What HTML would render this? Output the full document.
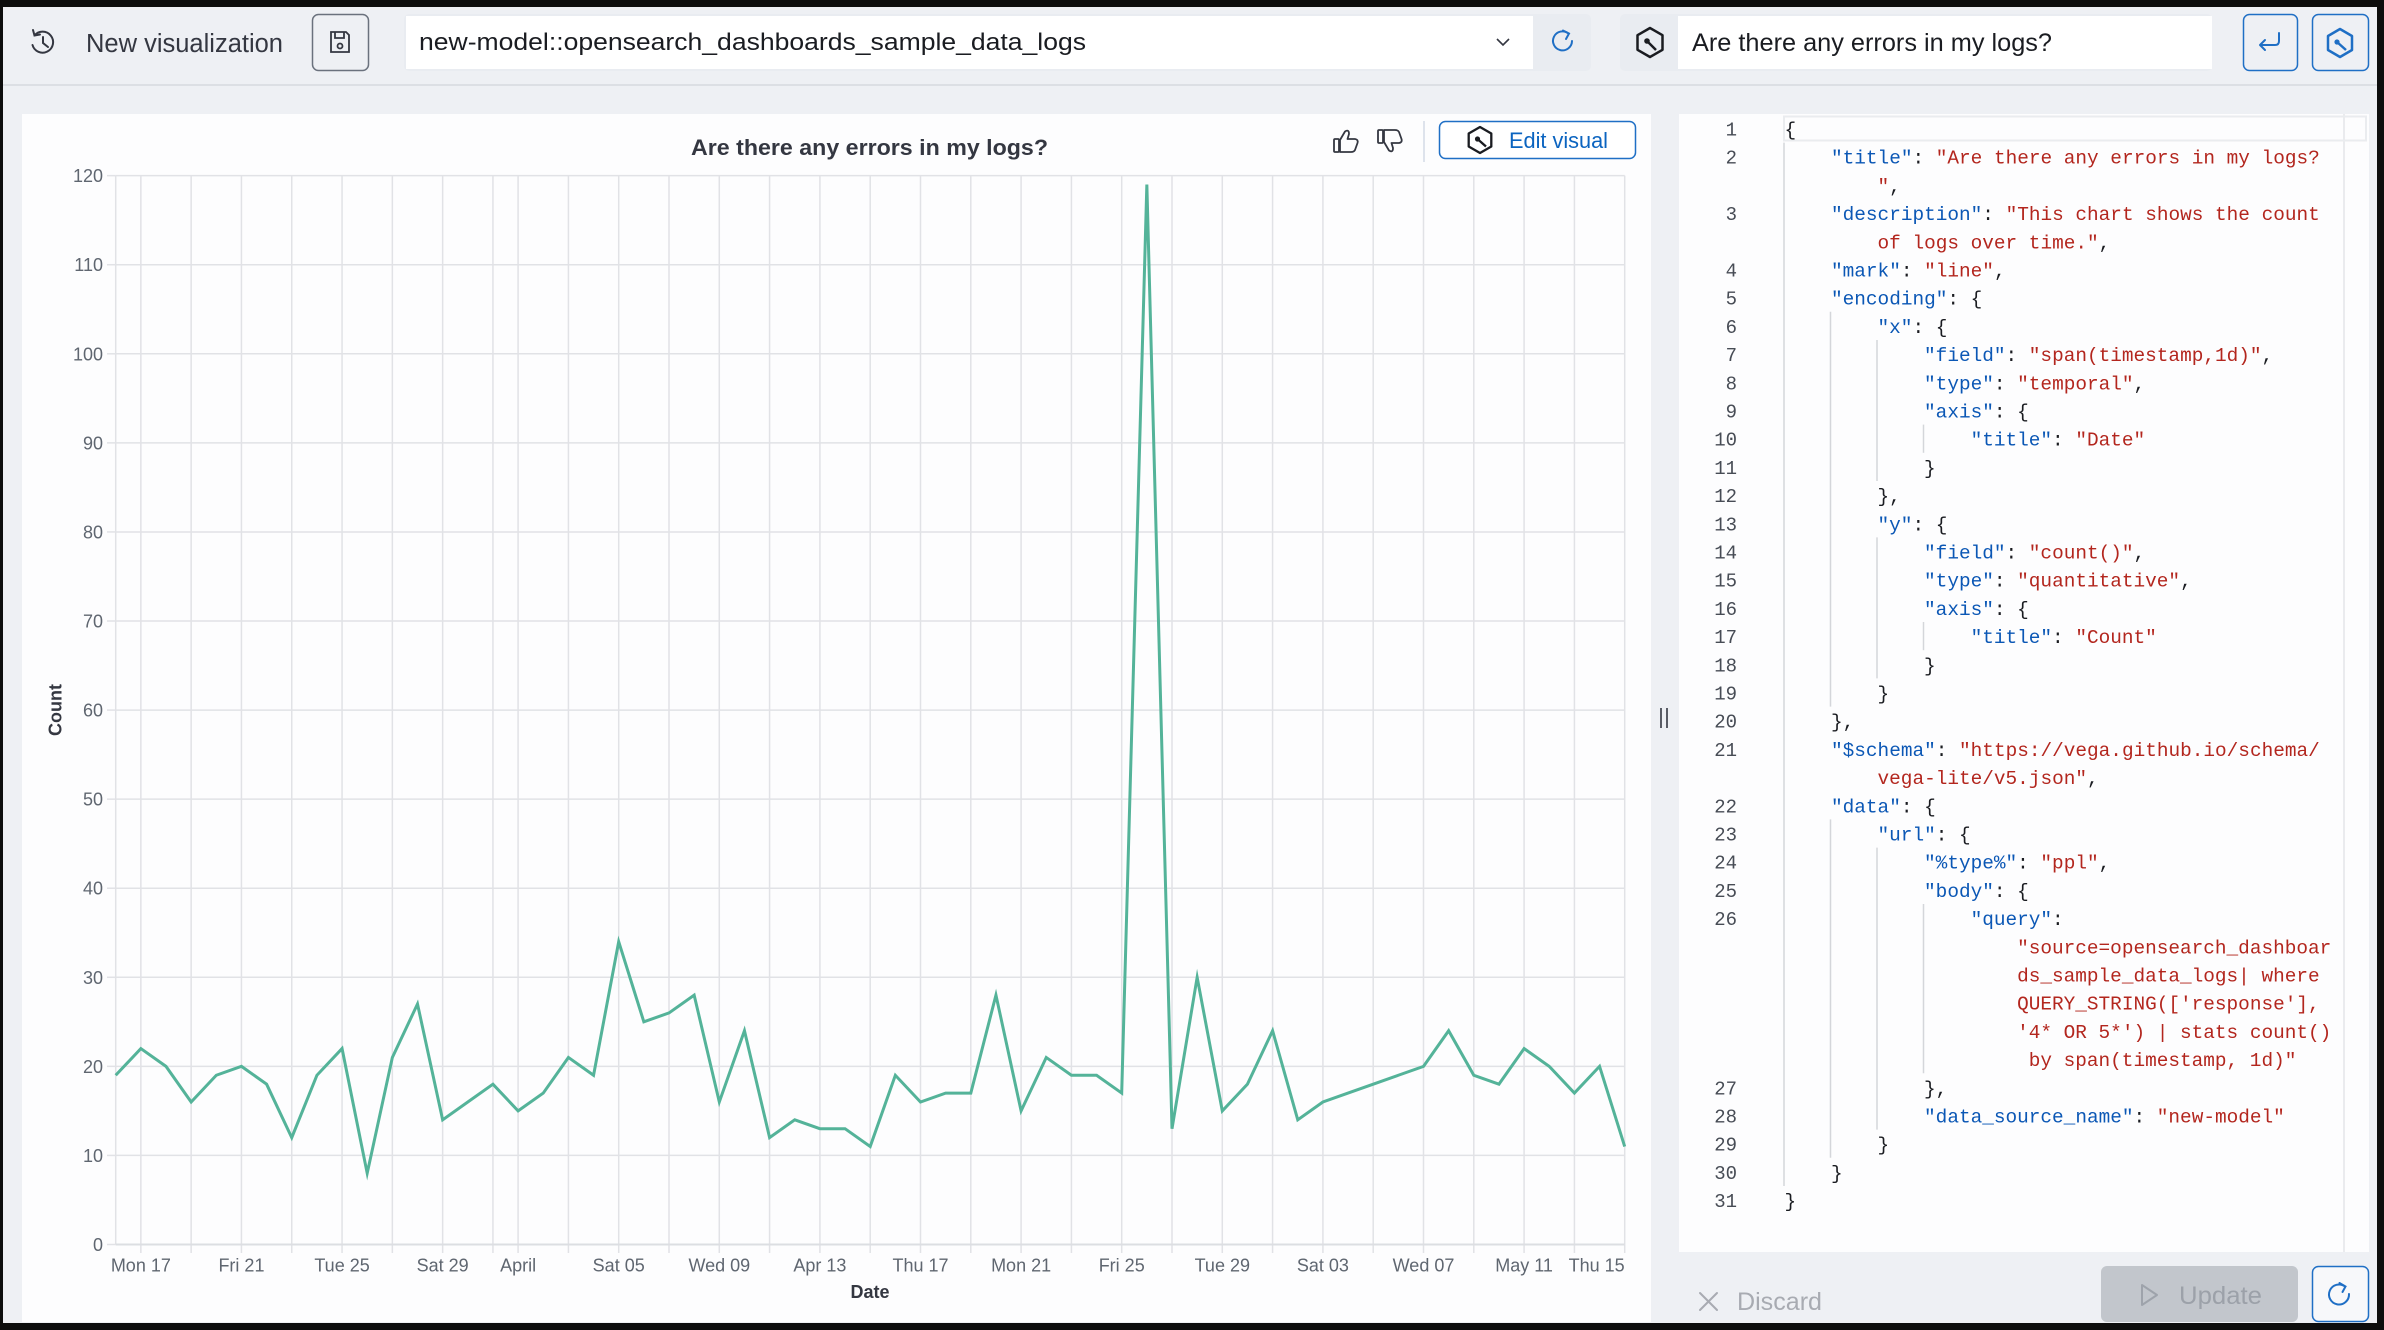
<!DOCTYPE html>
<html><head><meta charset="utf-8">
<style>
html,body{margin:0;padding:0;background:#eef0f4;}
svg{display:block;}
.ui{font-family:"Liberation Sans",Arial,sans-serif;}
.code{font-family:"Liberation Mono",monospace;font-size:19.4px;white-space:pre;fill:#1a1c21;}
.k{fill:#0b57b5}.s{fill:#b3261e}
.ln{font-family:"Liberation Mono",monospace;font-size:19px;fill:#474c55;text-anchor:end;}
.yl{font-family:"Liberation Sans",Arial,sans-serif;font-size:18px;fill:#5f6670;text-anchor:end;}
.xl{font-family:"Liberation Sans",Arial,sans-serif;font-size:18px;fill:#5f6670;text-anchor:middle;}
</style></head>
<body>
<svg width="2384" height="1330" viewBox="0 0 2384 1330" xmlns="http://www.w3.org/2000/svg">
<rect width="2384" height="1330" fill="#eef0f4"/>
<line x1="0" y1="85" x2="2384" y2="85" stroke="#d5d9df" stroke-width="1.5"/>

<!-- HEADER -->
<g fill="none" stroke="#343741" stroke-width="2" stroke-linecap="round">
  <path d="M34.5 35.5 A10.5 10.5 0 1 1 32.5 45"/>
  <path d="M33 30 L34.5 35.5 L40 34.5"/>
  <path d="M43 37 L43 43 L48 47"/>
</g>
<text class="ui" x="86" y="52" font-size="25.5" fill="#343741" textLength="197" lengthAdjust="spacingAndGlyphs">New visualization</text>
<rect x="312.5" y="14.5" width="56" height="56" rx="6" fill="none" stroke="#6a717d" stroke-width="1.5"/>
<g fill="none" stroke="#343741" stroke-width="1.8">
  <path d="M331 32 h15 l3 3 v17 h-18 z"/>
  <path d="M335 32 v6 h9 v-6"/>
  <circle cx="340" cy="46" r="2.5"/>
</g>
<rect x="404" y="14" width="1187" height="57" rx="5" fill="#e9ecf1"/>
<rect x="406" y="16" width="1127" height="53" fill="#ffffff"/>
<text class="ui" x="419" y="50" font-size="24" fill="#1a1c21" textLength="667" lengthAdjust="spacingAndGlyphs">new-model::opensearch_dashboards_sample_data_logs</text>
<polyline points="1497,39 1503,45 1509,39" fill="none" stroke="#343741" stroke-width="1.6"/>
<g fill="none" stroke="#1f6fc5" stroke-width="2" stroke-linecap="round">
  <path d="M1568.5 33.5 A9.5 9.5 0 1 0 1572 41"/>
  <path d="M1563 30.5 L1569 33.5 L1566 39"/>
</g>
<rect x="1620" y="14" width="592" height="57" rx="5" fill="#e9ecf1"/>
<rect x="1678" y="16" width="534" height="53" fill="#ffffff"/>
<g fill="none" stroke="#1a1c21" stroke-width="2.5" stroke-linejoin="round">
  <polygon points="1650,28 1662.5,35.2 1662.5,49.8 1650,57 1637.5,49.8 1637.5,35.2"/>
  <line x1="1647" y1="41" x2="1656" y2="50"/>
</g>
<circle cx="1647" cy="41" r="2.8" fill="#1a1c21"/>
<text class="ui" x="1692" y="51" font-size="25" fill="#1a1c21" textLength="360" lengthAdjust="spacingAndGlyphs">Are there any errors in my logs?</text>
<rect x="2243.5" y="14.5" width="54" height="56" rx="6" fill="none" stroke="#1f6fc5" stroke-width="1.5"/>
<g fill="none" stroke="#1f6fc5" stroke-width="2" stroke-linecap="round" stroke-linejoin="round">
  <path d="M2279 33 v8 q0 4 -4 4 h-14"/>
  <path d="M2265 40 l-5 5 l5 5"/>
</g>
<rect x="2312.5" y="14.5" width="56" height="56" rx="6" fill="none" stroke="#1f6fc5" stroke-width="1.5"/>
<g fill="none" stroke="#1f6fc5" stroke-width="2.5" stroke-linejoin="round">
  <polygon points="2340,29 2352,36 2352,50 2340,57 2328,50 2328,36"/>
  <line x1="2337" y1="42" x2="2346" y2="50"/>
</g>
<circle cx="2337" cy="42" r="2.6" fill="#1f6fc5"/>

<!-- CHART PANEL -->
<rect x="22" y="114" width="1629" height="1208" fill="#fdfdfe"/>
<text class="ui" x="869.5" y="155" font-size="22" font-weight="bold" fill="#343741" text-anchor="middle" textLength="357" lengthAdjust="spacingAndGlyphs">Are there any errors in my logs?</text>
<g fill="none" stroke="#343741" stroke-width="1.8" stroke-linejoin="round">
  <rect x="1334" y="139" width="5" height="13" rx="1"/>
  <path d="M1340 140 L1345 131.5 Q1349 129 1349 134 L1347.5 139 L1355 139 Q1358.5 139.5 1357.5 143 L1355 150 Q1354 152 1351 152 L1340 152 Z"/>
  <rect x="1378" y="130" width="5" height="13" rx="1"/>
  <path d="M1384 142 L1389 150.5 Q1393 153 1393 148 L1391.5 143 L1399 143 Q1402.5 142.5 1401.5 139 L1399 132 Q1398 130 1395 130 L1384 130 Z"/>
</g>
<line x1="1424" y1="121" x2="1424" y2="162" stroke="#d3dae6" stroke-width="1.5"/>
<rect x="1439.5" y="121.5" width="196" height="37" rx="6" fill="#fff" stroke="#1f6fc5" stroke-width="1.5"/>
<g fill="none" stroke="#1a1c21" stroke-width="2.3" stroke-linejoin="round">
  <polygon points="1480,127 1491.3,133.5 1491.3,146.5 1480,153 1468.7,146.5 1468.7,133.5"/>
  <line x1="1477.5" y1="139" x2="1486" y2="146.5"/>
</g>
<circle cx="1477.5" cy="139" r="2.6" fill="#1a1c21"/>
<text class="ui" x="1509" y="148" font-size="22" fill="#0b64c0" textLength="99" lengthAdjust="spacingAndGlyphs">Edit visual</text>

<!-- grid -->
<g stroke="#e1e2e6" stroke-width="1.5">
  <line x1="115.7" y1="1155.43" x2="1624.7" y2="1155.43"/>
  <line x1="115.7" y1="1066.36" x2="1624.7" y2="1066.36"/>
  <line x1="115.7" y1="977.29" x2="1624.7" y2="977.29"/>
  <line x1="115.7" y1="888.22" x2="1624.7" y2="888.22"/>
  <line x1="115.7" y1="799.15" x2="1624.7" y2="799.15"/>
  <line x1="115.7" y1="710.08" x2="1624.7" y2="710.08"/>
  <line x1="115.7" y1="621.01" x2="1624.7" y2="621.01"/>
  <line x1="115.7" y1="531.94" x2="1624.7" y2="531.94"/>
  <line x1="115.7" y1="442.87" x2="1624.7" y2="442.87"/>
  <line x1="115.7" y1="353.8" x2="1624.7" y2="353.8"/>
  <line x1="115.7" y1="264.73" x2="1624.7" y2="264.73"/>
  <line x1="115.7" y1="175.66" x2="1624.7" y2="175.66"/>
  <line x1="115.7" y1="175.66" x2="115.7" y2="1244.5"/>
  <line x1="140.85" y1="175.66" x2="140.85" y2="1253"/>
  <line x1="191.15" y1="175.66" x2="191.15" y2="1253"/>
  <line x1="241.45" y1="175.66" x2="241.45" y2="1253"/>
  <line x1="291.75" y1="175.66" x2="291.75" y2="1253"/>
  <line x1="342.05" y1="175.66" x2="342.05" y2="1253"/>
  <line x1="392.35" y1="175.66" x2="392.35" y2="1253"/>
  <line x1="442.65" y1="175.66" x2="442.65" y2="1253"/>
  <line x1="492.95" y1="175.66" x2="492.95" y2="1253"/>
  <line x1="518.1" y1="175.66" x2="518.1" y2="1253"/>
  <line x1="568.4" y1="175.66" x2="568.4" y2="1253"/>
  <line x1="618.7" y1="175.66" x2="618.7" y2="1253"/>
  <line x1="669.0" y1="175.66" x2="669.0" y2="1253"/>
  <line x1="719.3" y1="175.66" x2="719.3" y2="1253"/>
  <line x1="769.6" y1="175.66" x2="769.6" y2="1253"/>
  <line x1="819.9" y1="175.66" x2="819.9" y2="1253"/>
  <line x1="870.2" y1="175.66" x2="870.2" y2="1253"/>
  <line x1="920.5" y1="175.66" x2="920.5" y2="1253"/>
  <line x1="970.8" y1="175.66" x2="970.8" y2="1253"/>
  <line x1="1021.1" y1="175.66" x2="1021.1" y2="1253"/>
  <line x1="1071.4" y1="175.66" x2="1071.4" y2="1253"/>
  <line x1="1121.7" y1="175.66" x2="1121.7" y2="1253"/>
  <line x1="1172.0" y1="175.66" x2="1172.0" y2="1253"/>
  <line x1="1222.3" y1="175.66" x2="1222.3" y2="1253"/>
  <line x1="1272.6" y1="175.66" x2="1272.6" y2="1253"/>
  <line x1="1322.9" y1="175.66" x2="1322.9" y2="1253"/>
  <line x1="1373.2" y1="175.66" x2="1373.2" y2="1253"/>
  <line x1="1423.5" y1="175.66" x2="1423.5" y2="1253"/>
  <line x1="1473.8" y1="175.66" x2="1473.8" y2="1253"/>
  <line x1="1524.1" y1="175.66" x2="1524.1" y2="1253"/>
  <line x1="1574.4" y1="175.66" x2="1574.4" y2="1253"/>
  <line x1="1624.7" y1="175.66" x2="1624.7" y2="1253"/>
  <line x1="107" y1="1244.5" x2="115.7" y2="1244.5"/>
  <line x1="107" y1="1155.43" x2="115.7" y2="1155.43"/>
  <line x1="107" y1="1066.36" x2="115.7" y2="1066.36"/>
  <line x1="107" y1="977.29" x2="115.7" y2="977.29"/>
  <line x1="107" y1="888.22" x2="115.7" y2="888.22"/>
  <line x1="107" y1="799.15" x2="115.7" y2="799.15"/>
  <line x1="107" y1="710.08" x2="115.7" y2="710.08"/>
  <line x1="107" y1="621.01" x2="115.7" y2="621.01"/>
  <line x1="107" y1="531.94" x2="115.7" y2="531.94"/>
  <line x1="107" y1="442.87" x2="115.7" y2="442.87"/>
  <line x1="107" y1="353.8" x2="115.7" y2="353.8"/>
  <line x1="107" y1="264.73" x2="115.7" y2="264.73"/>
  <line x1="107" y1="175.66" x2="115.7" y2="175.66"/>
</g>
<line x1="115.7" y1="1244.5" x2="1624.7" y2="1244.5" stroke="#dcdee2" stroke-width="2"/>

<!-- y labels -->
<text class="yl" x="103" y="1251">0</text>
<text class="yl" x="103" y="1161.9">10</text>
<text class="yl" x="103" y="1072.9">20</text>
<text class="yl" x="103" y="983.8">30</text>
<text class="yl" x="103" y="894.7">40</text>
<text class="yl" x="103" y="805.6">50</text>
<text class="yl" x="103" y="716.6">60</text>
<text class="yl" x="103" y="627.5">70</text>
<text class="yl" x="103" y="538.4">80</text>
<text class="yl" x="103" y="449.4">90</text>
<text class="yl" x="103" y="360.3">100</text>
<text class="yl" x="103" y="271.2">110</text>
<text class="yl" x="103" y="182.2">120</text>

<!-- x labels -->
<text class="xl" x="140.85" y="1271.5">Mon 17</text>
<text class="xl" x="241.45" y="1271.5">Fri 21</text>
<text class="xl" x="342.05" y="1271.5">Tue 25</text>
<text class="xl" x="442.65" y="1271.5">Sat 29</text>
<text class="xl" x="518.1" y="1271.5">April</text>
<text class="xl" x="618.7" y="1271.5">Sat 05</text>
<text class="xl" x="719.3" y="1271.5">Wed 09</text>
<text class="xl" x="819.9" y="1271.5">Apr 13</text>
<text class="xl" x="920.5" y="1271.5">Thu 17</text>
<text class="xl" x="1021.1" y="1271.5">Mon 21</text>
<text class="xl" x="1121.7" y="1271.5">Fri 25</text>
<text class="xl" x="1222.3" y="1271.5">Tue 29</text>
<text class="xl" x="1322.9" y="1271.5">Sat 03</text>
<text class="xl" x="1423.5" y="1271.5">Wed 07</text>
<text class="xl" x="1524.1" y="1271.5">May 11</text>
<text class="xl" x="1624.7" y="1271.5" style="text-anchor:end">Thu 15</text>

<text class="ui" x="870" y="1298" font-size="18" font-weight="bold" fill="#343741" text-anchor="middle">Date</text>
<text class="ui" x="0" y="0" font-size="18" font-weight="bold" fill="#343741" text-anchor="middle" transform="translate(61.5 710) rotate(-90)">Count</text>

<!-- series -->
<g transform="translate(115.7 1244.5) scale(25.15 -8.907)">
<polyline fill="none" stroke="#54b399" stroke-width="3" vector-effect="non-scaling-stroke" stroke-linejoin="miter" stroke-miterlimit="10"
points="0,19 1,22 2,20 3,16 4,19 5,20 6,18 7,12 8,19 9,22 10,8 11,21 12,27 13,14 14,16 15,18 16,15 17,17 18,21 19,19 20,34 21,25 22,26 23,28 24,16 25,24 26,12 27,14 28,13 29,13 30,11 31,19 32,16 33,17 34,17 35,28 36,15 37,21 38,19 39,19 40,17 41,119 42,13 43,30 44,15 45,18 46,24 47,14 48,16 49,17 50,18 51,19 52,20 53,24 54,19 55,18 56,22 57,20 58,17 59,20 60,11"/>
</g>

<!-- splitter -->
<line x1="1661" y1="708" x2="1661" y2="728" stroke="#343741" stroke-width="1.6"/>
<line x1="1667" y1="708" x2="1667" y2="728" stroke="#343741" stroke-width="1.6"/>

<!-- CODE PANEL -->
<rect x="1679" y="114" width="690" height="1138" fill="#fdfdfe"/>
<line x1="2344" y1="114" x2="2344" y2="1252" stroke="#e3e5e8" stroke-width="1.5"/>
<rect x="1784" y="116.5" width="582" height="24" fill="none" stroke="#eaecef" stroke-width="2"/>
<g stroke="#d4d6da" stroke-width="1.5">
  <line x1="1784" y1="142.6" x2="1784" y2="1186"/>
  <line x1="1830.5" y1="311.8" x2="1830.5" y2="706.6"/>
  <line x1="1830.5" y1="819.4" x2="1830.5" y2="1157.8"/>
  <line x1="1877" y1="340" x2="1877" y2="481"/>
  <line x1="1877" y1="537.4" x2="1877" y2="678.4"/>
  <line x1="1877" y1="847.6" x2="1877" y2="1129.6"/>
  <line x1="1923.5" y1="424.6" x2="1923.5" y2="452.8"/>
  <line x1="1923.5" y1="622" x2="1923.5" y2="650.2"/>
  <line x1="1923.5" y1="904" x2="1923.5" y2="1073.2"/>
</g>

<!-- line numbers -->
<text class="ln" x="1737" y="135.5">1</text>
<text class="ln" x="1737" y="163.7">2</text>
<text class="ln" x="1737" y="220.1">3</text>
<text class="ln" x="1737" y="276.5">4</text>
<text class="ln" x="1737" y="304.7">5</text>
<text class="ln" x="1737" y="332.9">6</text>
<text class="ln" x="1737" y="361.1">7</text>
<text class="ln" x="1737" y="389.3">8</text>
<text class="ln" x="1737" y="417.5">9</text>
<text class="ln" x="1737" y="445.7">10</text>
<text class="ln" x="1737" y="473.9">11</text>
<text class="ln" x="1737" y="502.1">12</text>
<text class="ln" x="1737" y="530.3">13</text>
<text class="ln" x="1737" y="558.5">14</text>
<text class="ln" x="1737" y="586.7">15</text>
<text class="ln" x="1737" y="614.9">16</text>
<text class="ln" x="1737" y="643.1">17</text>
<text class="ln" x="1737" y="671.3">18</text>
<text class="ln" x="1737" y="699.5">19</text>
<text class="ln" x="1737" y="727.7">20</text>
<text class="ln" x="1737" y="755.9">21</text>
<text class="ln" x="1737" y="812.3">22</text>
<text class="ln" x="1737" y="840.5">23</text>
<text class="ln" x="1737" y="868.7">24</text>
<text class="ln" x="1737" y="896.9">25</text>
<text class="ln" x="1737" y="925.1">26</text>
<text class="ln" x="1737" y="1094.3">27</text>
<text class="ln" x="1737" y="1122.5">28</text>
<text class="ln" x="1737" y="1150.7">29</text>
<text class="ln" x="1737" y="1178.9">30</text>
<text class="ln" x="1737" y="1207.1">31</text>

<!-- code -->
<text class="code" x="1784.5" y="135.5">{</text>
<text class="code" x="1831.02" y="163.7"><tspan class="k">"title"</tspan>: <tspan class="s">"Are there any errors in my logs?</tspan></text>
<text class="code" x="1877.54" y="191.9"><tspan class="s">"</tspan>,</text>
<text class="code" x="1831.02" y="220.1"><tspan class="k">"description"</tspan>: <tspan class="s">"This chart shows the count</tspan></text>
<text class="code" x="1877.54" y="248.3"><tspan class="s">of logs over time."</tspan>,</text>
<text class="code" x="1831.02" y="276.5"><tspan class="k">"mark"</tspan>: <tspan class="s">"line"</tspan>,</text>
<text class="code" x="1831.02" y="304.7"><tspan class="k">"encoding"</tspan>: {</text>
<text class="code" x="1877.54" y="332.9"><tspan class="k">"x"</tspan>: {</text>
<text class="code" x="1924.06" y="361.1"><tspan class="k">"field"</tspan>: <tspan class="s">"span(timestamp,1d)"</tspan>,</text>
<text class="code" x="1924.06" y="389.3"><tspan class="k">"type"</tspan>: <tspan class="s">"temporal"</tspan>,</text>
<text class="code" x="1924.06" y="417.5"><tspan class="k">"axis"</tspan>: {</text>
<text class="code" x="1970.58" y="445.7"><tspan class="k">"title"</tspan>: <tspan class="s">"Date"</tspan></text>
<text class="code" x="1924.06" y="473.9">}</text>
<text class="code" x="1877.54" y="502.1">},</text>
<text class="code" x="1877.54" y="530.3"><tspan class="k">"y"</tspan>: {</text>
<text class="code" x="1924.06" y="558.5"><tspan class="k">"field"</tspan>: <tspan class="s">"count()"</tspan>,</text>
<text class="code" x="1924.06" y="586.7"><tspan class="k">"type"</tspan>: <tspan class="s">"quantitative"</tspan>,</text>
<text class="code" x="1924.06" y="614.9"><tspan class="k">"axis"</tspan>: {</text>
<text class="code" x="1970.58" y="643.1"><tspan class="k">"title"</tspan>: <tspan class="s">"Count"</tspan></text>
<text class="code" x="1924.06" y="671.3">}</text>
<text class="code" x="1877.54" y="699.5">}</text>
<text class="code" x="1831.02" y="727.7">},</text>
<text class="code" x="1831.02" y="755.9"><tspan class="k">"$schema"</tspan>: <tspan class="s">"https://vega.github.io/schema/</tspan></text>
<text class="code" x="1877.54" y="784.1"><tspan class="s">vega-lite/v5.json"</tspan>,</text>
<text class="code" x="1831.02" y="812.3"><tspan class="k">"data"</tspan>: {</text>
<text class="code" x="1877.54" y="840.5"><tspan class="k">"url"</tspan>: {</text>
<text class="code" x="1924.06" y="868.7"><tspan class="k">"%type%"</tspan>: <tspan class="s">"ppl"</tspan>,</text>
<text class="code" x="1924.06" y="896.9"><tspan class="k">"body"</tspan>: {</text>
<text class="code" x="1970.58" y="925.1"><tspan class="k">"query"</tspan>:</text>
<text class="code s" x="2017.1" y="953.3">"source=opensearch_dashboar</text>
<text class="code s" x="2017.1" y="981.5">ds_sample_data_logs| where</text>
<text class="code s" x="2017.1" y="1009.7">QUERY_STRING(['response'],</text>
<text class="code s" x="2017.1" y="1037.9">'4* OR 5*') | stats count()</text>
<text class="code s" x="2028.73" y="1066.1">by span(timestamp, 1d)"</text>
<text class="code" x="1924.06" y="1094.3">},</text>
<text class="code" x="1924.06" y="1122.5"><tspan class="k">"data_source_name"</tspan>: <tspan class="s">"new-model"</tspan></text>
<text class="code" x="1877.54" y="1150.7">}</text>
<text class="code" x="1831.02" y="1178.9">}</text>
<text class="code" x="1784.5" y="1207.1">}</text>

<!-- footer -->
<g stroke="#a8abb2" stroke-width="2" stroke-linecap="round">
  <line x1="1700" y1="1293" x2="1717" y2="1310"/>
  <line x1="1717" y1="1293" x2="1700" y2="1310"/>
</g>
<text class="ui" x="1737" y="1310" font-size="25" fill="#a8abb2" textLength="85" lengthAdjust="spacingAndGlyphs">Discard</text>
<rect x="2101" y="1266" width="197" height="56" rx="6" fill="#c2c6cc"/>
<polygon points="2142,1285 2157,1295 2142,1305" fill="none" stroke="#9ea3ab" stroke-width="2" stroke-linejoin="round"/>
<text class="ui" x="2179" y="1304" font-size="25" fill="#9ca1a9" textLength="83" lengthAdjust="spacingAndGlyphs">Update</text>
<rect x="2312.5" y="1266.5" width="56" height="55" rx="6" fill="#f7f8fa" stroke="#1f6fc5" stroke-width="1.5"/>
<g fill="none" stroke="#1f6fc5" stroke-width="2" stroke-linecap="round">
  <path d="M2345 1286.5 A10 10 0 1 0 2349 1294"/>
  <path d="M2339.5 1283 L2345.5 1286.5 L2342.5 1292"/>
</g>

<!-- frame -->
<rect x="0" y="0" width="2384" height="7" fill="#0d0d0d"/>
<rect x="0" y="0" width="3" height="1330" fill="#0d0d0d"/>
<rect x="2377" y="0" width="7" height="1330" fill="#0d0d0d"/>
<rect x="0" y="1323" width="2384" height="7" fill="#0d0d0d"/>
</svg>
</body></html>
